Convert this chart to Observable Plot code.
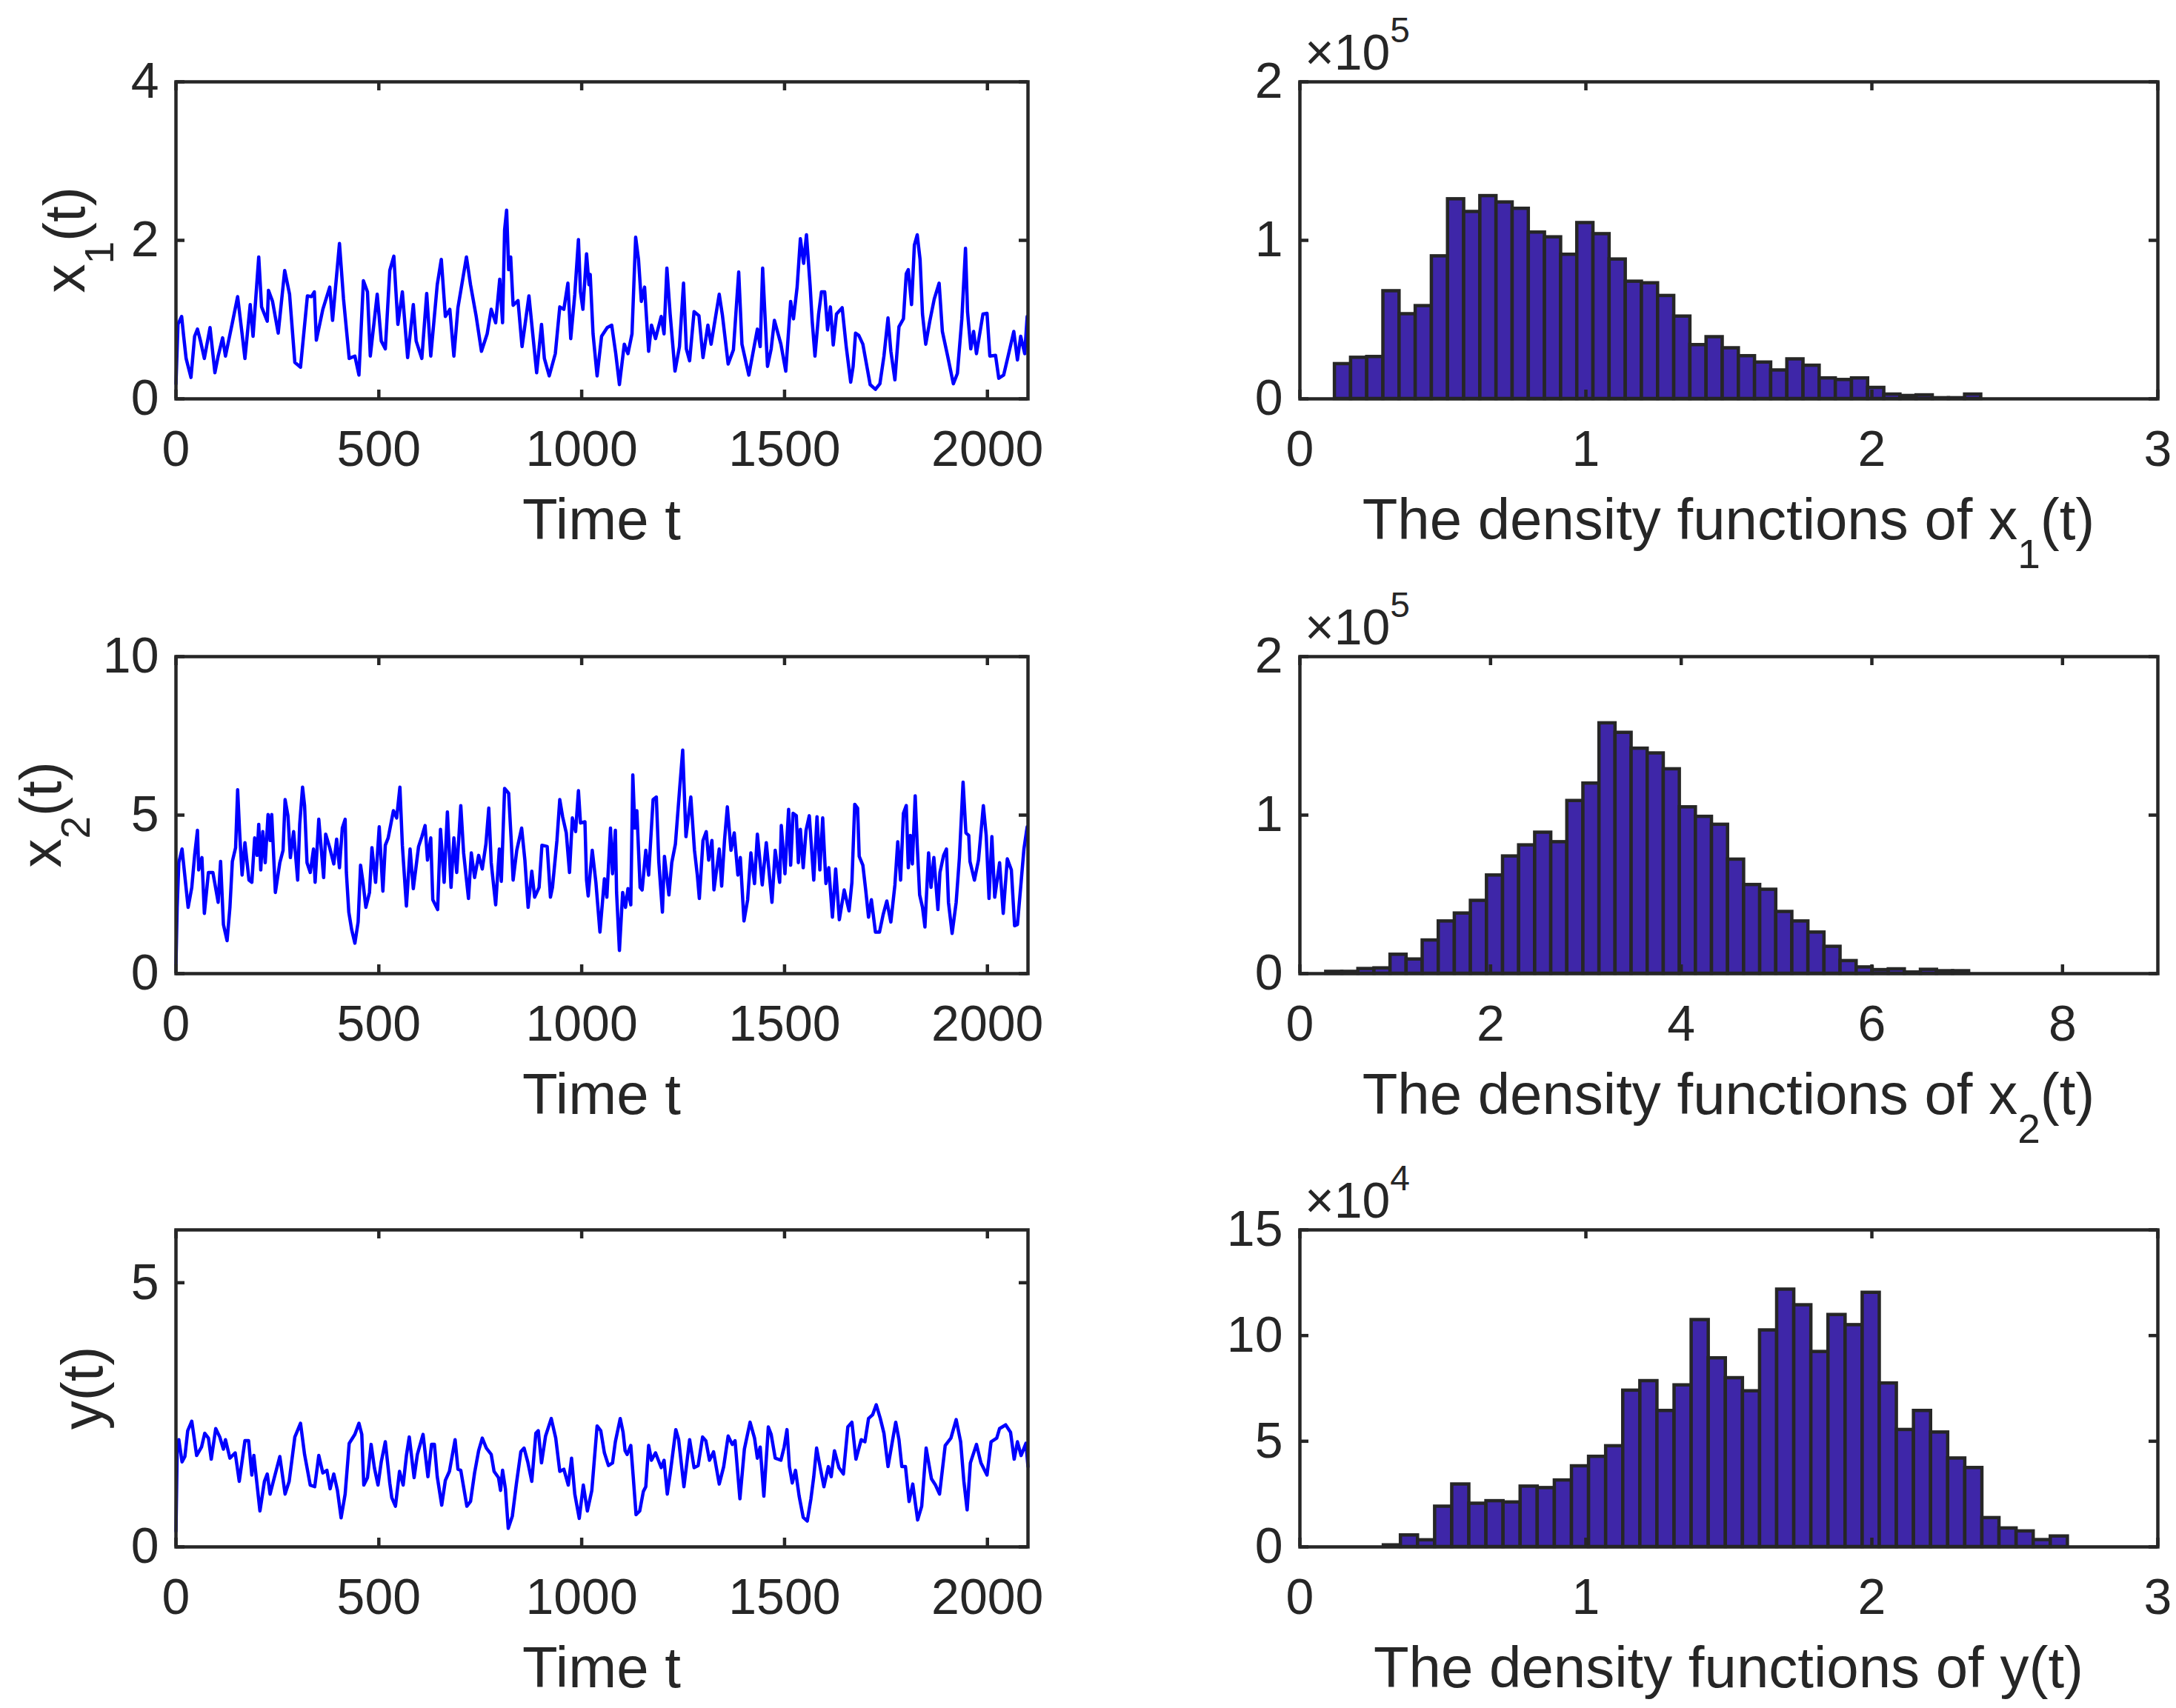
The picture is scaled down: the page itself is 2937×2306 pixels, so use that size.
<!DOCTYPE html>
<html>
<head>
<meta charset="utf-8">
<script src="https://cdn.jsdelivr.net/npm/d3@7"></script>
<script src="https://cdn.jsdelivr.net/npm/@observablehq/plot@0.6"></script>
<style>
  body { margin: 0; background: #fff; }
  #fig { position: relative; width: 2937px; height: 2306px; background: #fff; overflow: hidden; }
  #fig svg { position: absolute; overflow: visible; }
</style>
</head>
<body>
<div id="fig"></div>
<script>
// ---- time series x1(t) (peaks and troughs) ----
const x1T = [
  0,5,14,19,25,37,46,53,60,70, 84,96,104,115,122,139,152,163,170,183,
  190,204,211,225,228,238,252,268,280,293, 307,324,334,341,346,362,379,386,403,413,
  427,441,451,462,472,479,496,506,516,527, 537,547,558,571,585,592,606,618,628,644,
  654,664,675,685,695,716,726,740,753,767, 777,788,798,805,810,815,820,825,831,843,
  853,870,877,889,901,908,920,935,946,956, 966,973,983,992,997,1003,1012,1018,1021,1028,
  1038,1049,1063,1074,1084,1093,1105,1114,1124,1133, 1140,1147,1155,1165,1172,1182,1196,1203,1210,1218,
  1230,1241,1251,1258,1266,1277,1289,1299,1311,1319, 1339,1347,1361,1374,1387,1395,1412,1433,1440,1446,
  1458,1467,1475,1491,1503,1515,1522,1531,1539,1547, 1554,1563,1568,1575,1584,1591,1599,1606,1613,1620,
  1628,1642,1652,1663,1669,1675,1683,1693,1711,1724, 1735,1745,1755,1762,1772,1782,1793,1800,1805,1813,
  1820,1827,1834,1840,1848,1858,1869,1881,1889,1902, 1916,1926,1937,1946,1951,1959,1966,1973,1989,1999,
  2006,2020,2028,2040,2051,2065,2074,2082,2092,2098
];
const x1V = [
  .19,.94,1.04,.79,.51,.27,.79,.88,.74,.51, .90,.33,.54,.77,.54,.96,1.29,.82,.51,1.19,
  .79,1.79,1.16,.98,1.37,1.23,.83,1.62,1.32,.46, .40,1.30,1.29,1.35,.74,1.13,1.41,.99,1.96,1.26,
  .51,.54,.30,1.49,1.35,.54,1.32,.73,.63,1.62, 1.80,.94,1.35,.52,1.19,.73,.51,1.33,.54,1.44,
  1.76,1.04,1.13,.54,1.15,1.79,1.44,1.04,.60,.82, 1.13,.96,1.51,.96,2.13,2.38,1.63,1.79,1.18,1.24,
  .66,1.30,.94,.33,.94,.51,.29,.57,1.16,1.13, 1.46,.76,1.32,2.01,1.35,1.13,1.83,1.44,1.57,.82,
  .29,.79,.90,.93,.57,.18,.69,.57,.82,2.04, 1.76,1.23,1.41,.60,.93,.76,1.04,.82,1.65,1.07,
  .35,.66,1.46,.63,.48,1.10,1.05,.52,.93,.69, 1.32,1.05,.44,.62,1.60,.69,.30,.88,.66,1.65,
  .41,.63,.99,.69,.35,1.23,1.01,1.41,2.02,1.71, 2.07,1.43,.99,.54,1.07,1.35,1.35,.87,1.16,.68,
  1.07,1.15,.66,.21,.41,.83,.80,.69,.18,.12, .19,.54,1.02,.60,.24,.91,1.01,1.58,1.63,1.19,
  1.94,2.07,1.76,1.07,.69,.98,1.26,1.46,.85,.54, .19,.32,1.01,1.90,1.10,.63,.85,.57,1.07,1.08,
  .54,.55,.26,.30,.54,.85,.49,.79,.57,1.04
];

// ---- time series x2(t) ----
const x2T = [
  0,3,7,15,21,30,39,46,53,56, 64,70,80,91,97,104,110,117,126,133,
  139,147,152,157,163,170,180,187,194,200, 204,209,214,220,227,232,236,245,256,264,
  269,276,282,290,300,305,312,317,323,331, 339,343,352,364,369,379,389,396,403,410,
  417,420,426,433,441,449,455,461,468,477, 483,492,501,510,516,523,536,544,552,558,
  568,577,585,598,606,614,620,628,633,645, 652,661,669,678,685,692,702,709,721,728,
  736,746,755,764,771,777,788,797,802,810, 820,826,831,840,852,860,868,877,884,895,
  902,915,923,928,939,946,953,962,970,977, 985,992,997,1008,1012,1016,1026,1035,1045,1056,
  1062,1071,1076,1083,1086,1093,1101,1108,1114,1121, 1126,1131,1136,1144,1149,1158,1165,1176,1184,1190,
  1199,1204,1215,1222,1231,1242,1249,1257,1269,1278, 1285,1290,1299,1307,1313,1321,1326,1339,1345,1352,
  1359,1368,1376,1385,1391,1400,1409,1417,1426,1433, 1445,1455,1469,1477,1488,1492,1501,1510,1515,1521,
  1529,1534,1539,1546,1553,1561,1572,1580,1587,1594, 1602,1609,1618,1626,1635,1647,1659,1666,1673,1680,
  1684,1693,1700,1707,1714,1724,1734,1743,1752,1762, 1772,1779,1786,1793,1800,1805,1810,1815,1822,1827,
  1833,1840,1846,1855,1861,1868,1878,1883,1892,1899, 1904,1913,1923,1931,1940,1947,1954,1957,1968,1978,
  1990,1997,2004,2011,2018,2030,2039,2049,2059,2067, 2074,2083,2090,2098
];
const x2V = [
  .30,2.09,3.50,3.93,3.19,2.09,2.72,3.73,4.52,3.27, 3.66,1.90,3.19,3.19,2.76,2.25,3.54,1.55,1.04,2.09,
  3.54,3.97,5.80,4.44,3.11,4.13,2.95,2.88,4.28,3.73, 4.71,3.27,4.48,3.50,5.02,4.20,5.02,2.56,3.50,3.89,
  5.49,4.98,3.66,4.48,2.95,4.71,5.88,5.30,3.50,3.19, 3.93,2.88,4.87,3.03,4.40,3.97,3.46,4.24,3.34,4.59,
  4.87,3.19,1.94,1.39,.96,1.63,3.42,2.88,2.09,2.56, 3.97,2.88,4.63,2.60,4.05,4.28,5.14,4.91,5.88,4.05,
  2.13,3.93,2.68,4.01,4.32,4.67,3.58,4.28,2.33,2.02, 4.55,2.88,5.10,2.72,4.28,3.19,5.30,3.81,2.37,3.81,
  3.03,3.73,3.30,4.09,5.22,3.50,2.17,3.93,2.91,5.84, 5.69,4.28,2.95,3.89,4.59,3.58,2.09,3.23,2.41,2.72,
  4.05,4.01,2.41,2.72,4.20,5.49,4.95,4.44,3.19,4.91, 4.48,5.77,4.75,4.79,2.95,2.45,3.89,2.88,1.31,2.99,
  2.41,4.59,3.15,4.52,2.56,.73,2.56,2.09,2.68,2.17, 6.27,4.59,5.14,2.72,2.64,3.89,3.11,5.49,5.57,3.54,
  1.94,3.70,2.48,3.50,4.09,5.92,7.05,4.32,5.57,3.89, 3.11,2.37,4.20,4.48,3.58,4.20,2.64,3.93,2.76,4.20,
  5.26,3.89,4.44,3.11,3.66,1.66,2.33,3.81,2.84,4.40, 2.80,4.13,2.25,3.89,2.88,4.67,3.15,5.18,3.42,5.06,
  4.98,3.50,4.55,3.34,4.52,4.98,2.95,4.95,3.27,4.91, 2.84,3.34,1.78,3.30,1.70,2.64,1.98,2.88,5.34,5.22,
  3.70,3.42,2.64,1.78,2.33,1.31,1.31,1.86,2.29,1.63, 2.80,4.16,2.95,5.06,5.30,3.34,4.36,3.46,5.61,4.05,
  2.48,2.09,1.47,3.81,2.72,3.66,2.02,3.19,3.73,3.93, 2.25,1.27,2.25,3.66,6.04,4.44,4.36,3.54,2.95,3.58,
  5.30,4.36,2.37,4.32,2.41,3.50,1.90,3.62,3.27,1.51, 1.55,2.88,3.93,4.63
];

// ---- time series y(t) ----
const yT = [
  0,3,7,15,22,29,39,51,63,71, 80,87,98,108,117,122,133,146,156,170,
  179,187,192,207,218,225,232,240,256,269, 279,293,307,317,331,342,352,362,372,380,
  389,398,407,417,427,441,451,458,463,472, 481,489,498,506,516,527,532,541,551,560,
  568,575,587,595,609,621,630,637,644,655, 664,674,688,695,702,717,726,736,746,755,
  765,777,784,795,800,805,812,819,829,839, 850,858,867,877,887,893,901,911,925,936,
  946,956,967,975,983,994,1004,1014,1025,1038, 1047,1056,1066,1076,1083,1095,1102,1107,1112,1121,
  1127,1134,1143,1152,1158,1165,1172,1182,1196,1203, 1211,1218,1232,1239,1252,1266,1277,1287,1298,1306,
  1315,1325,1339,1350,1361,1371,1378,1390,1401,1415, 1426,1433,1440,1449,1460,1467,1477,1491,1499,1506,
  1512,1519,1527,1536,1546,1556,1565,1572,1579,1587, 1597,1608,1615,1623,1634,1645,1656,1666,1676,1689,
  1698,1707,1717,1726,1736,1745,1755,1764,1774,1782, 1789,1798,1807,1816,1828,1838,1849,1862,1872,1882,
  1896,1910,1923,1934,1942,1950,1958,1973,1984,1999, 2009,2023,2030,2045,2057,2066,2074,2083,2095,2100
];
const yV = [
  .30,1.80,2.03,1.61,1.71,2.20,2.38,1.73,1.89,2.15, 2.06,1.66,2.24,2.08,1.85,2.03,1.68,1.78,1.24,2.01,
  2.01,1.36,1.73,.68,1.24,1.38,1.00,1.24,1.71,1.00, 1.24,2.08,2.34,1.75,1.17,1.14,1.73,1.40,1.45,1.10,
  1.38,1.07,.55,1.00,1.96,2.13,2.34,2.13,1.17,1.31, 1.94,1.50,1.17,1.61,1.99,1.21,.93,.77,1.43,1.17,
  1.73,2.08,1.31,1.75,2.13,1.33,1.94,1.94,1.33,.79, 1.26,1.43,2.03,1.47,1.45,.77,.86,1.40,1.82,2.06,
  1.87,1.75,1.43,1.31,1.07,1.45,1.10,.35,.58,1.19, 1.80,1.87,1.61,1.24,2.15,2.20,1.59,2.10,2.43,2.06,
  1.43,1.47,1.17,1.68,1.00,.54,1.17,.68,1.07,2.29, 2.20,1.78,1.54,1.59,1.99,2.43,2.17,1.82,1.75,1.92,
  1.33,.61,.68,1.05,1.14,1.92,1.64,1.78,1.50,1.64, 1.00,1.38,2.22,2.03,1.14,2.03,1.50,1.54,2.08,2.01,
  1.64,1.80,1.19,1.52,2.10,1.94,2.01,.91,1.85,2.36, 2.06,1.68,1.89,.96,2.27,2.13,1.68,1.64,1.89,2.22,
  1.52,1.21,1.45,.96,.56,.49,.91,1.33,1.87,1.54, 1.14,1.52,1.33,1.82,1.50,1.38,2.27,2.36,1.66,2.03,
  1.99,2.43,2.50,2.69,2.43,2.15,1.52,1.92,2.36,2.03, 1.52,1.52,.86,1.19,.51,.77,1.87,1.29,1.17,1.00,
  1.92,2.06,2.41,1.99,1.24,.70,1.59,1.94,1.59,1.36, 1.99,2.06,2.24,2.31,2.17,1.66,1.99,1.73,1.96,1.52
];

// ---- histograms: first bin edge, bin width, bar counts ----
const h1Lo = 0.122, h1Width = 0.0565;
const h1Counts = [
  22000,26000,26500,68000,53500,58600,90000,126000,118000,128000,
  124000,120000,105000,102000,91000,111000,104000,88000,74000,73000,
  65000,52000,34000,39000,32000,27000,23000,18000,25000,21000,
  13000,12000,13000,7000,2800,1900,2300,500,500,2800
];
const h2Lo = 0.275, h2Width = 0.1686;
const h2Counts = [
  1200,1200,3000,3400,12000,9000,21000,33000,38000,46000,
  62000,74000,81000,89000,83000,109000,120000,158000,152000,142000,
  139000,129000,105000,99000,94000,72000,56000,53000,39000,33000,
  26000,17000,8000,4000,2300,2800,800,2500,1600,1600
];
const h3Lo = 0.293, h3Width = 0.0598;
const h3Counts = [
  800,5500,3200,19100,29600,20500,21700,21100,28600,27900,
  31500,38200,42700,47700,74000,78500,64400,76500,107400,89300,
  79900,73700,102500,121800,114400,92300,109800,105000,120300,77400,
  55400,64400,54200,41900,37400,13700,8800,7400,3300,5000
];

// ---- ticks ----
const timeTicks = [0, 500, 1000, 1500, 2000];
const x1Ticks = [0, 2, 4];
const x2Ticks = [0, 5, 10];
const yTicks = [0, 5];
const h1XTicks = [0, 1, 2, 3];
const h2XTicks = [0, 2, 4, 6, 8];
const h3XTicks = [0, 1, 2, 3];
const h5YTicks = [0, 100000, 200000];
const h4YTicks = [0, 50000, 100000, 150000];

const INK = "#262626";
const FRAME_H = 428;
const rowTop = [0, 776, 1550];
const rowH = [776, 776, 756];
const fig = document.getElementById("fig");
const baseStyle = {fontFamily: "'Liberation Sans', Arial, sans-serif", fontSize: "68px", color: INK, background: "transparent"};
const LABEL_SIZE = 78;

// matlab style: ticks pointing inward on all four sides
function innerTicks(xt, yt, innerW) {
  const L = 12, sw = 4.5;
  return [
    Plot.tickX(xt, {x: d => d, insetTop: FRAME_H - L, stroke: INK, strokeWidth: sw}),
    Plot.tickX(xt, {x: d => d, insetBottom: FRAME_H - L, stroke: INK, strokeWidth: sw}),
    Plot.tickY(yt, {y: d => d, insetLeft: innerW - L, stroke: INK, strokeWidth: sw}),
    Plot.tickY(yt, {y: d => d, insetRight: innerW - L, stroke: INK, strokeWidth: sw})
  ];
}

// text with sub/superscripts; parts = [[string, ""|"sub"|"sup"], ...]
function richText(svg, x, y, parts, size, anchor, rotate) {
  const t = d3.select(svg).append("text")
    .attr("transform", `translate(${x},${y})` + (rotate ? " rotate(-90)" : ""))
    .attr("text-anchor", anchor)
    .attr("fill", INK)
    .style("font-size", size + "px");
  let shift = 0;
  for (const [s, kind] of parts) {
    const target = kind === "sub" ? 0.5 * size : kind === "sup" ? -0.55 * size : 0;
    const sp = t.append("tspan").text(s).attr("dy", target - shift);
    if (kind) sp.style("font-size", Math.round(size * 0.7) + "px");
    shift = target;
  }
}

function place(svg, left, top) {
  svg.style.left = left + "px";
  svg.style.top = top + "px";
  fig.appendChild(svg);
}

function timePanel(t, v, yMax, yt, row, ylabel, ylabelX) {
  const data = t.map((d, i) => ({t: d, v: v[i]}));
  const svg = Plot.plot({
    width: 1468,
    height: rowH[row],
    marginLeft: 237, marginRight: 81,
    marginTop: 110, marginBottom: rowH[row] - 110 - FRAME_H,
    style: baseStyle,
    x: {domain: [0, 2100]},
    y: {domain: [0, yMax]},
    marks: [
      Plot.line(data, {x: "t", y: "v", stroke: "#0000ff", strokeWidth: 4.5}),
      ...innerTicks(timeTicks, yt, 1150),
      Plot.axisX(timeTicks, {tickSize: 0, tickPadding: 42, tickFormat: d => String(d), label: null}),
      Plot.axisY(yt, {tickSize: 0, tickPadding: 23, tickFormat: d => String(d), label: null}),
      Plot.frame({stroke: INK, strokeWidth: 4.5})
    ]
  });
  place(svg, 0, rowTop[row]);
  richText(svg, 812, 110 + FRAME_H + 190, [["Time t", ""]], LABEL_SIZE, "middle", false);
  richText(svg, ylabelX, 110 + FRAME_H / 2, ylabel, LABEL_SIZE, "middle", true);
}

function histPanel(lo, w, counts, xMax, xt, yMax, yt, expo, row, xlabel) {
  const bins = counts.map((c, i) => ({x1: lo + i * w, x2: lo + (i + 1) * w, c}));
  const svg = Plot.plot({
    width: 1469,
    height: rowH[row],
    marginLeft: 286, marginRight: 25,
    marginTop: 110, marginBottom: rowH[row] - 110 - FRAME_H,
    style: baseStyle,
    x: {domain: [0, xMax]},
    y: {domain: [0, yMax]},
    marks: [
      Plot.rectY(bins, {x1: "x1", x2: "x2", y: "c", fill: "#3e26a8", stroke: INK, strokeWidth: 4.5, inset: 0}),
      ...innerTicks(xt, yt, 1158),
      Plot.axisX(xt, {tickSize: 0, tickPadding: 42, tickFormat: d => String(d), label: null}),
      Plot.axisY(yt, {tickSize: 0, tickPadding: 23, tickFormat: d => String(d / Math.pow(10, expo)), label: null}),
      Plot.frame({stroke: INK, strokeWidth: 4.5})
    ]
  });
  place(svg, 1468, rowTop[row]);
  richText(svg, 293, 94, [["\u00d710", ""], [String(expo), "sup"]], 68, "start", false);
  richText(svg, 865, 110 + FRAME_H + 190, xlabel, LABEL_SIZE, "middle", false);
}

timePanel(x1T, x1V, 4, x1Ticks, 0, [["x", ""], ["1", "sub"], ["(t)", ""]], 114);
timePanel(x2T, x2V, 10, x2Ticks, 1, [["x", ""], ["2", "sub"], ["(t)", ""]], 82);
timePanel(yT, yV, 6, yTicks, 2, [["y(t)", ""]], 138);

histPanel(h1Lo, h1Width, h1Counts, 3, h1XTicks, 200000, h5YTicks, 5, 0,
  [["The density functions of x", ""], ["1", "sub"], ["(t)", ""]]);
histPanel(h2Lo, h2Width, h2Counts, 9, h2XTicks, 200000, h5YTicks, 5, 1,
  [["The density functions of x", ""], ["2", "sub"], ["(t)", ""]]);
histPanel(h3Lo, h3Width, h3Counts, 3, h3XTicks, 150000, h4YTicks, 4, 2,
  [["The density functions of y(t)", ""]]);
</script>
</body>
</html>
